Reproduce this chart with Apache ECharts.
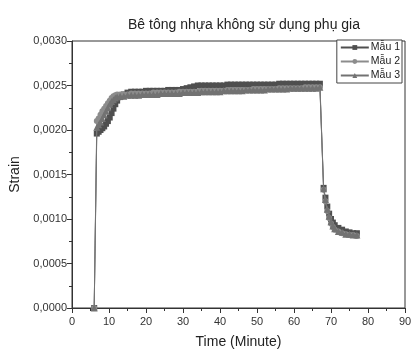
<!DOCTYPE html>
<html>
<head>
<meta charset="utf-8">
<script src="https://cdn.jsdelivr.net/npm/echarts@6/dist/echarts.min.js"></script>
<style>
html,body{margin:0;padding:0;background:#fff;}
#c{width:412px;height:351px;}
</style>
</head>
<body>
<div id="c"></div>
<script>
const titleText = "Bê tông nhựa không sử dụng phụ gia";
const xName = "Time (Minute)";
const yName = "Strain";
const seriesNames = ["Mẫu 1", "Mẫu 2", "Mẫu 3"];

const time = [6, 6.7, 7.2, 7.7, 8.2, 8.7, 9.2, 9.7, 10.2, 10.7, 11.2, 11.7, 12.2,
  13, 14, 15, 16, 17, 18, 19, 20, 21, 22, 23, 24, 25, 26, 27, 28, 29, 30,
  31, 32, 33, 34, 35, 36, 37, 38, 39, 40, 41, 42, 43, 44, 45, 46, 47, 48, 49, 50,
  51, 52, 53, 54, 55, 56, 57, 58, 59, 60, 61, 62, 63, 64, 65, 66, 67,
  68, 68.5, 69, 69.5, 70, 70.5, 71, 72, 73, 74, 75, 76, 77];

const mau1 = [0, 0.00196, 0.00198, 0.00200, 0.00202, 0.00204, 0.00207, 0.00210, 0.00214, 0.00219, 0.00224, 0.00229, 0.00233,
  0.00237, 0.00240, 0.00242, 0.00243, 0.00243, 0.00243, 0.00243, 0.00244, 0.00244, 0.00244, 0.00244, 0.00244, 0.00244, 0.00245, 0.00245, 0.00245, 0.00245, 0.00246,
  0.00247, 0.00248, 0.00249, 0.00250, 0.00250, 0.00250, 0.00250, 0.00250, 0.00250, 0.00250, 0.00250, 0.00251, 0.00251, 0.00251, 0.00251, 0.00251, 0.00251, 0.00251, 0.00251, 0.00251,
  0.00251, 0.00251, 0.00251, 0.00251, 0.00251, 0.00252, 0.00252, 0.00252, 0.00252, 0.00252, 0.00252, 0.00252, 0.00252, 0.00252, 0.00252, 0.00252, 0.00252,
  0.00135, 0.00124, 0.00114, 0.00106, 0.00100, 0.00096, 0.00093, 0.00090, 0.00088, 0.00086, 0.00085, 0.00084, 0.00084];

const mau2 = [0, 0.00210, 0.00213, 0.00217, 0.00221, 0.00224, 0.00227, 0.00230, 0.00233, 0.00236, 0.00238, 0.00239, 0.00240,
  0.00240, 0.00240, 0.00240, 0.00241, 0.00241, 0.00241, 0.00241, 0.00241, 0.00241, 0.00242, 0.00242, 0.00242, 0.00242, 0.00242, 0.00242, 0.00242, 0.00243, 0.00243,
  0.00243, 0.00243, 0.00243, 0.00243, 0.00244, 0.00244, 0.00244, 0.00244, 0.00244, 0.00244, 0.00244, 0.00245, 0.00245, 0.00245, 0.00245, 0.00245, 0.00245, 0.00245, 0.00246, 0.00246,
  0.00246, 0.00246, 0.00246, 0.00246, 0.00246, 0.00247, 0.00247, 0.00247, 0.00247, 0.00247, 0.00247, 0.00247, 0.00248, 0.00248, 0.00248, 0.00248, 0.00248,
  0.00133, 0.00120, 0.00109, 0.00101, 0.00095, 0.00091, 0.00088, 0.00086, 0.00084, 0.00083, 0.00082, 0.00082, 0.00081];

const mau3 = [0, 0.00203, 0.00206, 0.00209, 0.00213, 0.00217, 0.00221, 0.00225, 0.00229, 0.00232, 0.00234, 0.00236, 0.00237,
  0.00238, 0.00238, 0.00239, 0.00239, 0.00239, 0.00239, 0.00240, 0.00240, 0.00240, 0.00240, 0.00240, 0.00241, 0.00241, 0.00241, 0.00241, 0.00241, 0.00241, 0.00242,
  0.00242, 0.00242, 0.00242, 0.00242, 0.00243, 0.00243, 0.00243, 0.00243, 0.00243, 0.00243, 0.00244, 0.00244, 0.00244, 0.00244, 0.00244, 0.00244, 0.00245, 0.00245, 0.00245, 0.00245,
  0.00245, 0.00245, 0.00246, 0.00246, 0.00246, 0.00246, 0.00246, 0.00246, 0.00247, 0.00247, 0.00247, 0.00247, 0.00247, 0.00247, 0.00247, 0.00247, 0.00248,
  0.00134, 0.00122, 0.00111, 0.00103, 0.00097, 0.00092, 0.00089, 0.00086, 0.00085, 0.00083, 0.00083, 0.00082, 0.00082];

const seriesValues = [mau1, mau2, mau3];
const symbols = ["rect", "circle", "triangle"];
const colors = ["#4f4f4f", "#8c8c8c", "#727272"];

function pairs(vals) { return time.map((t, i) => [t, vals[i]]); }

const chart = echarts.init(document.getElementById('c'), null, {renderer: 'canvas'});
const axisColor = '#333';
chart.setOption({
  animation: false,
  backgroundColor: '#fff',
  textStyle: {fontFamily: 'Liberation Sans, Arial, sans-serif'},
  title: {
    text: titleText, left: 239, top: 13, textAlign: 'center',
    textStyle: {fontSize: 14, fontWeight: 'normal', color: '#222'}
  },
  legend: {
    right: 10, top: 40, orient: 'vertical', itemGap: 3,
    itemWidth: 28, itemHeight: 6,
    borderColor: '#444', borderWidth: 1, borderRadius: 0, padding: [2, 2, 2, 3],
    backgroundColor: '#fff',
    textStyle: {fontSize: 10.5, color: '#222', padding: [0, 0, 0, -3]},
    data: seriesNames
  },
  grid: {left: 72, right: 7, top: 41, bottom: 43, containLabel: false, outerBoundsMode: 'none'},
  xAxis: {
    type: 'value', min: 0, max: 90, interval: 10,
    name: xName, nameLocation: 'middle', nameGap: 27,
    nameTextStyle: {fontSize: 14, color: '#222'},
    axisLine: {show: true, lineStyle: {color: axisColor, width: 1}},
    axisTick: {show: true, inside: false, length: 5, lineStyle: {color: axisColor}},
    minorTick: {show: true, splitNumber: 2, length: 3, lineStyle: {color: axisColor}},
    axisLabel: {fontSize: 11, color: '#333', margin: 8},
    splitLine: {show: false}
  },
  yAxis: {
    type: 'value', min: 0, max: 0.003, interval: 0.0005,
    name: yName, nameLocation: 'middle', nameGap: 46,
    nameTextStyle: {fontSize: 14, color: '#222'},
    axisLine: {show: true, lineStyle: {color: axisColor, width: 1}},
    axisTick: {show: true, inside: false, length: 5, lineStyle: {color: axisColor}},
    minorTick: {show: true, splitNumber: 2, length: 3, lineStyle: {color: axisColor}},
    axisLabel: {fontSize: 11, color: '#333', margin: 5,
      formatter: v => v.toFixed(4).replace('.', ',')},
    splitLine: {show: false}
  },
  graphic: [{
    type: 'rect', silent: true, z: 0,
    shape: {x: 72, y: 41, width: 333, height: 267},
    style: {fill: 'none', stroke: axisColor, lineWidth: 1}
  }],
  series: seriesNames.map((n, i) => ({
    name: n, type: 'line', data: pairs(seriesValues[i]),
    symbol: symbols[i], symbolSize: i === 2 ? 7 : 6, showSymbol: true,
    color: colors[i],
    lineStyle: {color: colors[i], width: 1},
    itemStyle: {color: colors[i], borderWidth: 0},
    z: 2 + i
  }))
});
</script>
</body>
</html>
